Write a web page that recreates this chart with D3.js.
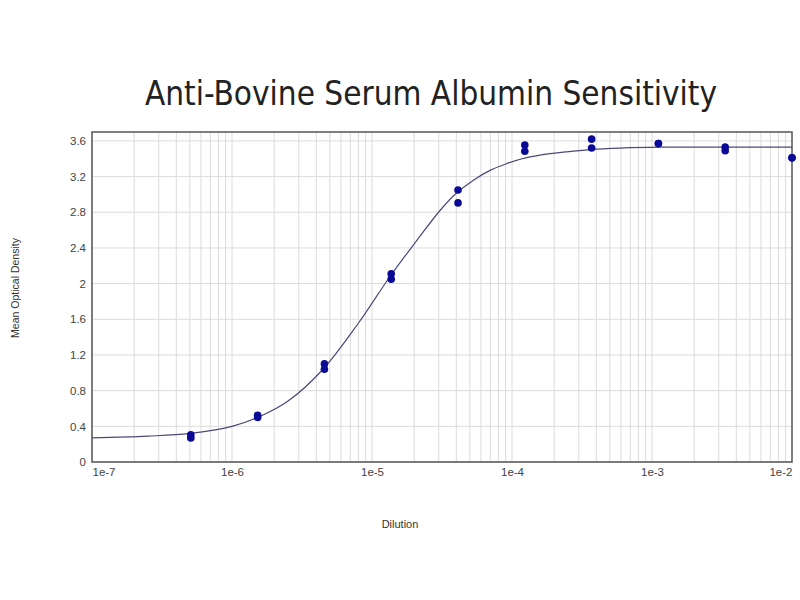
<!DOCTYPE html>
<html lang="en">
  <head>
    <meta charset="UTF-8" />
    <title>Anti-Bovine Serum Albumin Sensitivity</title>
    <script src="https://cdnjs.cloudflare.com/ajax/libs/d3/7.8.5/d3.min.js"></script>
    <style>
      html,
      body {
        margin: 0;
        background: #fff;
        font-family: 'Liberation Sans', Arial, sans-serif;
      }
      .grid line {
        stroke: #dcdcdc;
        stroke-width: 1;
      }
      .tick text {
        fill: #444;
        font-size: 11.5px;
      }
    </style>
  </head>
  <body>
    <div id="chart"></div>
    <script>
      // replicate readings (dilution, mean OD)
      const dilutions = [1e-2, 1e-2, 1 / 300, 1 / 300, 1 / 900, 1 / 900, 1 / 2700, 1 / 2700,
        1 / 8100, 1 / 8100, 1 / 24300, 1 / 24300, 1 / 72900, 1 / 72900,
        1 / 218700, 1 / 218700, 1 / 656100, 1 / 656100, 1 / 1968300, 1 / 1968300];
      const odValues = [3.41, 3.41, 3.53, 3.49, 3.57, 3.57, 3.62, 3.52,
        3.555, 3.485, 3.05, 2.905, 2.11, 2.05,
        1.10, 1.04, 0.525, 0.50, 0.305, 0.27];

      // fitted curve
      const curveX = [1e-7, 2.5e-7, 5e-7, 1e-6, 1.58e-6, 2.5e-6, 4.47e-6, 7.94e-6,
        1.345e-5, 2.08e-5, 3.06e-5, 3.98e-5, 5.3e-5, 6.97e-5, 9.16e-5, 1.18e-4,
        1.58e-4, 2.46e-4, 3.6e-4, 5.9e-4, 1.14e-3, 3e-3, 1e-2];
      const curveY = [0.27, 0.29, 0.32, 0.40, 0.51, 0.68, 1.04, 1.55,
        2.08, 2.48, 2.82, 3.01, 3.16, 3.27, 3.345, 3.40,
        3.44, 3.478, 3.503, 3.52, 3.53, 3.53, 3.53];

      const yTicks = [0, 0.4, 0.8, 1.2, 1.6, 2, 2.4, 2.8, 3.2, 3.6];
      const xTicks = [1e-7, 1e-6, 1e-5, 1e-4, 1e-3, 1e-2];
      const xTickLabels = ["1e-7", "1e-6", "1e-5", "1e-4", "1e-3", "1e-2"];

      const width = 800,
        height = 600,
        margin = { top: 132, right: 8, bottom: 138, left: 92 },
        iw = width - margin.left - margin.right,
        ih = height - margin.top - margin.bottom;

      const x = d3.scaleLog().domain([1e-7, 1e-2]).range([0, iw]);
      const y = d3.scaleLinear().domain([0, 3.7]).range([ih, 0]);

      const svg = d3
        .select("#chart")
        .append("svg")
        .attr("width", width)
        .attr("height", height);

      svg
        .append("text")
        .attr("x", 431)
        .attr("y", 105)
        .attr("text-anchor", "middle")
        .attr("font-family", "'DejaVu Sans Condensed', 'DejaVu Sans', sans-serif")
        .attr("font-size", 33)
        .attr("fill", "#222")
        .text("Anti-Bovine Serum Albumin Sensitivity");

      const g = svg
        .append("g")
        .attr("transform", `translate(${margin.left},${margin.top})`);

      // minor + major log grid
      const minor = [];
      xTicks.slice(0, -1).forEach((d) => {
        for (let k = 1; k < 10; k++) minor.push(d * k);
      });
      g.append("g")
        .attr("class", "grid")
        .selectAll("line")
        .data(minor)
        .join("line")
        .attr("x1", (d) => x(d))
        .attr("x2", (d) => x(d))
        .attr("y1", 0)
        .attr("y2", ih);

      g.append("g")
        .attr("class", "grid")
        .selectAll("line")
        .data(yTicks)
        .join("line")
        .attr("x1", 0)
        .attr("x2", iw)
        .attr("y1", (d) => y(d))
        .attr("y2", (d) => y(d));

      // axes
      g.append("g")
        .call(d3.axisLeft(y).tickValues(yTicks).tickSize(0).tickPadding(6).tickFormat(d3.format("~g")))
        .call((a) => a.select(".domain").remove());

      g.append("g")
        .attr("transform", `translate(0,${ih})`)
        .call(
          d3.axisBottom(x)
            .tickValues(xTicks)
            .tickSize(0)
            .tickPadding(6)
            .tickFormat((d, i) => xTickLabels[i])
        )
        .call((a) => a.select(".domain").remove())
        .call((a) =>
          a.selectAll(".tick text").attr("text-anchor", (d, i) =>
            i === 0 ? "start" : i === xTicks.length - 1 ? "end" : "middle"
          )
        );

      // frame
      g.append("rect")
        .attr("width", iw)
        .attr("height", ih)
        .attr("fill", "none")
        .attr("stroke", "#555")
        .attr("stroke-width", 1.5);

      // fitted curve
      const line = d3
        .line()
        .x((d, i) => x(curveX[i]))
        .y((d) => y(d))
        .curve(d3.curveCatmullRom.alpha(0.5));

      g.append("path")
        .datum(curveY)
        .attr("fill", "none")
        .attr("stroke", "#4a4a78")
        .attr("stroke-width", 1.2)
        .attr("d", line);

      g.append("g")
        .selectAll("circle")
        .data(odValues)
        .join("circle")
        .attr("cx", (d, i) => x(dilutions[i]))
        .attr("cy", (d) => y(d))
        .attr("r", 3.8)
        .attr("fill", "#0a0a96");

      // axis titles
      svg
        .append("text")
        .attr("transform", "translate(19,288) rotate(-90)")
        .attr("text-anchor", "middle")
        .attr("font-size", 10.5)
        .attr("fill", "#333")
        .text("Mean Optical Density");

      svg
        .append("text")
        .attr("x", 400)
        .attr("y", 528)
        .attr("text-anchor", "middle")
        .attr("font-size", 11)
        .attr("fill", "#333")
        .text("Dilution");
    </script>
  </body>
</html>
